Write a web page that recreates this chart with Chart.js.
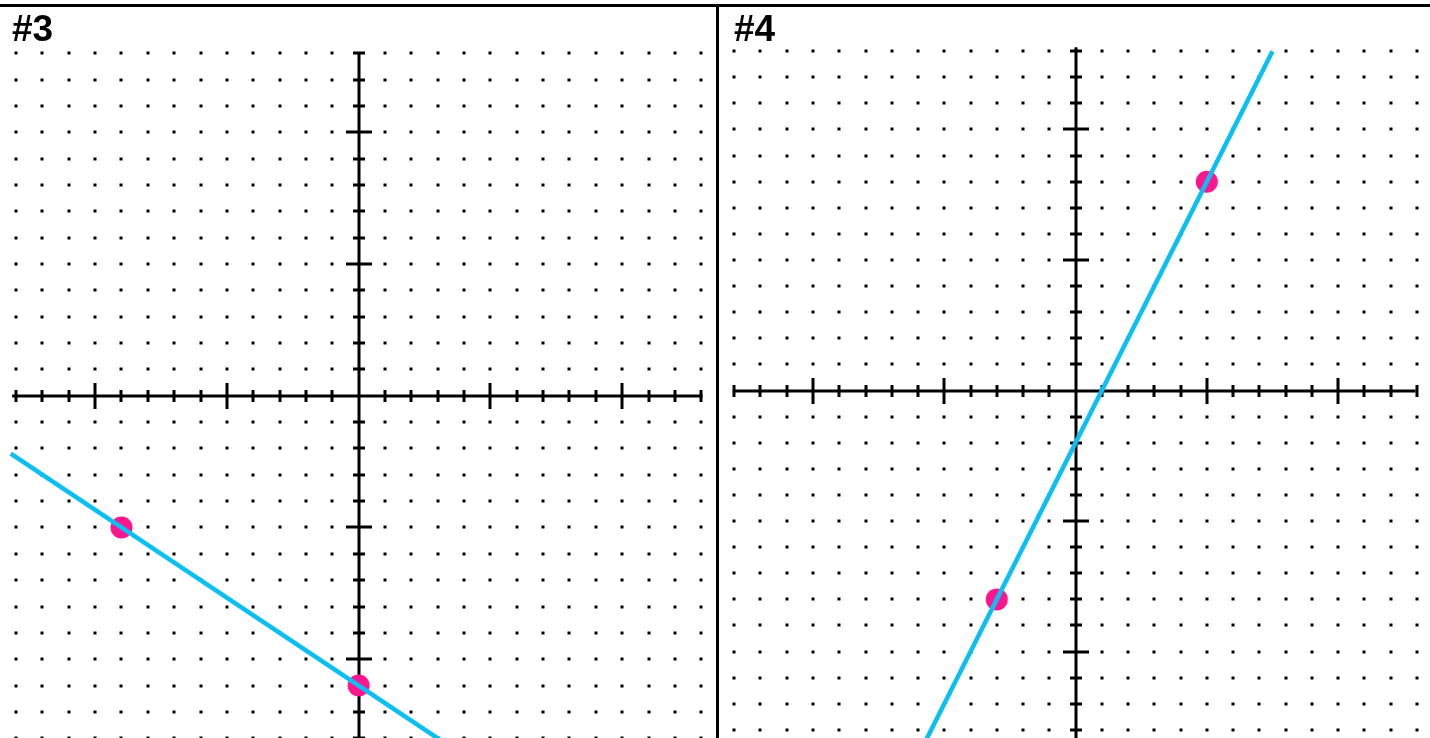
<!DOCTYPE html>
<html>
<head>
  <title>#3 / #4</title>
  <script src="https://cdn.jsdelivr.net/npm/chart.js"></script>
  <style>
    body { margin: 0; background: #fff; }
    #wrap { position: relative; width: 1430px; height: 738px; overflow: hidden; }
    canvas { position: absolute; top: 0; }
    #c3 { left: 0; }
    #c4 { left: 719px; }
    .topline { position: absolute; left: 0; top: 4px; width: 1430px; height: 3px; background: #000; }
    .sep { position: absolute; left: 716px; top: 4px; width: 3px; height: 734px; background: #000; }
    .label { position: absolute; top: 10px; font: bold 37px "Liberation Sans", Arial, sans-serif; line-height: 37px; }
  </style>
</head>
<body>

<div id="wrap">
  <canvas id="c3" width="716" height="738"></canvas>
  <canvas id="c4" width="711" height="738"></canvas>
  <div class="topline"></div>
  <div class="sep"></div>
  <div class="label" id="l3" style="left:12px"></div>
  <div class="label" id="l4" style="left:734px"></div>
</div>

<script>
  // дані
  const panelNames = ['#3', '#4'];
  const gridValues = [-13, -12, -11, -10, -9, -8, -7, -6, -5, -4, -3, -2, -1, 0,
                      1, 2, 3, 4, 5, 6, 7, 8, 9, 10, 11, 12, 13];

  // #3
  const points3X = [-9, 0];
  const points3Y = [-5, -11];
  const line3X = [-13.2, 3.6];
  const line3Y = [-2.2, -13.4];

  // #4
  const points4X = [5, -3];
  const points4Y = [8, -8];
  const line4X = [-5.7, 7.5];
  const line4Y = [-13.4, 13.0];

  document.getElementById('l3').textContent = panelNames[0];
  document.getElementById('l4').textContent = panelNames[1];

  function toXY(xs, ys) {
    return xs.map((x, i) => ({ x: x, y: ys[i] }));
  }

  // точки сітки, осі та поділки
  const graphPaper = {
    id: 'graphPaper',
    beforeDatasetsDraw(chart, args, opts) {
      const ctx = chart.ctx;
      const sx = chart.scales.x, sy = chart.scales.y;
      ctx.save();
      ctx.fillStyle = '#000';
      for (const gx of gridValues) {
        for (const gy of gridValues) {
          if (gx === 0 || gy === 0) continue;
          const px = sx.getPixelForValue(gx), py = sy.getPixelForValue(gy);
          ctx.fillRect(Math.round(px) - 1.5, Math.round(py) - 1.5, 3, 3);
        }
      }
      const x0 = Math.round(sx.getPixelForValue(0));
      const y0 = Math.round(sy.getPixelForValue(0));
      ctx.strokeStyle = '#000';
      ctx.lineWidth = 3;
      ctx.beginPath();
      ctx.moveTo(sx.getPixelForValue(opts.axisX[0]), y0);
      ctx.lineTo(sx.getPixelForValue(opts.axisX[1]), y0);
      ctx.moveTo(x0, sy.getPixelForValue(opts.axisY[0]));
      ctx.lineTo(x0, sy.getPixelForValue(opts.axisY[1]));
      ctx.stroke();
      ctx.beginPath();
      for (const v of gridValues) {
        if (v === 0) continue;
        const len = v % 5 === 0 ? 13 : 6;
        const px = Math.round(sx.getPixelForValue(v));
        ctx.moveTo(px, y0 - len);
        ctx.lineTo(px, y0 + len);
        const py = Math.round(sy.getPixelForValue(v));
        ctx.moveTo(x0 - len, py);
        ctx.lineTo(x0 + len, py);
      }
      ctx.stroke();
      ctx.restore();
    }
  };

  function makeChart(id, lineData, pointData, view) {
    return new Chart(document.getElementById(id), {
      type: 'scatter',
      data: {
        datasets: [
          {
            data: lineData,
            showLine: true,
            borderColor: '#0abff4',
            borderWidth: 4.5,
            pointRadius: 0
          },
          {
            data: pointData,
            pointRadius: 11,
            pointHoverRadius: 11,
            backgroundColor: '#ff168f',
            borderWidth: 0
          }
        ]
      },
      options: {
        responsive: false,
        devicePixelRatio: 1,
        animation: false,
        layout: { padding: 0, autoPadding: false },
        scales: {
          x: { type: 'linear', display: false, min: view.xMin, max: view.xMax },
          y: { type: 'linear', display: false, min: view.yMin, max: view.yMax }
        },
        plugins: {
          legend: { display: false },
          tooltip: { enabled: false },
          graphPaper: { axisX: view.axisX, axisY: view.axisY }
        }
      },
      plugins: [graphPaper]
    });
  }

  makeChart('c3', toXY(line3X, line3Y), toXY(points3X, points3Y), {
    xMin: -13.61, xMax: 13.56, yMin: -12.99, yMax: 15.02,
    axisX: [-13.15, 13.05], axisY: [13.05, -13.5]
  });

  makeChart('c4', toXY(line4X, line4Y), toXY(points4X, points4Y), {
    xMin: -13.58, xMax: 13.5, yMin: -13.31, yMax: 14.96,
    axisX: [-13.05, 12.95], axisY: [13.15, -13.5]
  });
</script>

</body>
</html>
